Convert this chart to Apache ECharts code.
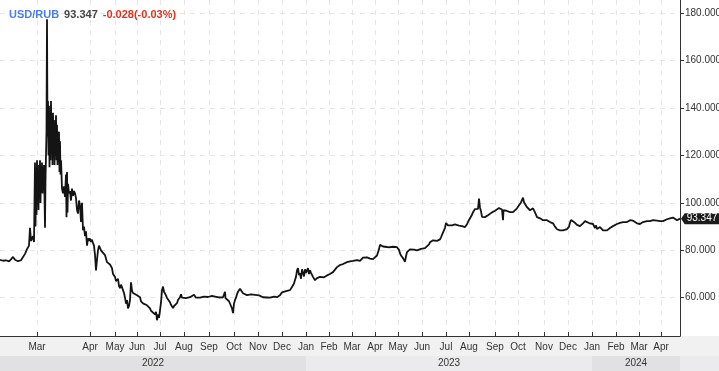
<!DOCTYPE html>
<html>
<head>
<meta charset="utf-8">
<style>
html,body{margin:0;padding:0;background:#fff;}
#chart{width:719px;height:371px;}
</style>
<script src="https://cdn.jsdelivr.net/npm/echarts@6/dist/echarts.min.js"></script>
</head>
<body>
<div id="chart"></div>
<script>
// ---- DATA ----
// x = bar (session) number, y = USD/RUB rate
var usdRub = [
[0,76.0],[3,75.6],[6,75.8],[9,75.3],[11,76.2],[13,77.2],[15,76.0],[18,75.4],[21,75.8],[23,76.5],
[25,78.5],[27,80.5],[29,82.0],[30,89.5],[31,84.0],[33,86.0],[34,83.5],[35,117],[35.5,90],[36,110],
[36.5,95],[37,118],[37.5,100],[38,112],[38.5,97],[39,116],[39.5,104],[40,118],[40.5,100],[41,115],
[41.5,106],[42,117],[42.5,104],[43,113],[43.5,108],[44,116],[45,89.5],[45.5,110],[46,120],[46.5,130],
[47,177.5],[47.5,128],[48,143],[48.5,120],[49,141],[49.5,115],[50,138],[50.5,118],[51,143],[51.5,122],
[52,135],[52.5,116],[53,138],[53.5,125],[54,132],[54.5,116],[55,135],[55.5,120],[56,137],[56.5,118],
[57,133],[57.5,116],[58,128],[59,130],[59.5,113],[60,126],[60.5,112],[61,118],[62,106],[63,104],
[64,107],[65,102.5],[66,112],[66.5,94],[67,113],[67.5,96],[68,108],[69,104],[70,105],[71,101],
[72,106],[73,103],[74,105],[75,104],[76,102],[77,97],[78,95.5],[79,101],[80,99],[81,92],
[82,100],[83,88.5],[84,90],[85,86],[86,88],[87,82],[88,85],[89,84],[90,85],[91,83.5],
[92,84.5],[93,83],[94,82],[95,78],[96,71.5],[97,76],[98,80],[99,82],[100,81.5],[101,80],
[103,80.5],[105,78],[107,75],[108,74.5],[110,74],[112,72.5],[113,70],[114,70.5],[115,68.8],[116,67],
[117,66.3],[118,68],[119,65],[120,64],[121,65.5],[123,63.2],[124,62],[125,60],[126,57.5],[127,59],
[128,55.5],[129,56.5],[130,59],[131,66.5],[132,63],[133,62],[135,61.5],[137,61],[139,60.5],[140,60.2],
[141,58.5],[143,57.6],[145,57.2],[147,56.8],[149,56.5],[150,55.5],[151,54.5],[153,53.9],[155,53],[156,54],
[157,50.5],[158,53],[159,51.5],[160,54.7],[161,58],[162,63.2],[163,64.7],[164,62.5],[165,63],[166,61],
[167,59.9],[169,59.2],[170,58.1],[171,57],[173,55.6],[174,56.5],[175,55.8],[177,57.7],[178,59],[180,60.2],
[181,61.5],[182,60],[184,60.3],[186,59.8],[188,60.4],[190,60.2],[192,60.8],[194,61.3],[196,60],[198,60.2],
[200,60],[202,59.8],[204,60.5],[206,59.9],[208,60.3],[210,60.6],[212,60.8],[213,61.2],[215,60.5],[217,60.3],
[219,60.1],[221,59.8],[223,60.2],[225,62.5],[225.5,59.8],[227,59.5],[229,58.5],[230,57.7],[231,56.5],[232,55.5],
[233,53.5],[234,57.5],[235,59],[236,60],[237,61.5],[238,62.5],[239,63],[240,63.8],[241,63],[243,61.9],
[245,61.5],[247,61.1],[249,61.2],[251,61.4],[253,61.3],[255,61.2],[257,61],[259,61],[261,60.6],[263,60.2],
[265,60.4],[267,60.1],[270,60],[272,60.3],[274,60.5],[277,60.2],[279,60.8],[280,61],[282,62.3],[284,63],
[286,62.8],[288,63],[290,63.2],[292,64.5],[294,66],[295,67.5],[296,68.8],[297,71.5],[298,72.5],[299,69.5],
[300,70.4],[301,68],[302,72],[303,71.6],[304,69],[305,72],[306,70.5],[307,70.8],[308,72.5],[309,70],
[310,71.6],[311,70.5],[313,68.8],[314,68],[315,67.4],[317,68.3],[319,68.5],[320,68.8],[322,69],[324,68.6],
[327,69.4],[330,70],[333,70.8],[335,71.5],[337,72.9],[340,73.8],[343,74.2],[345,74.8],[347,75],[350,75.3],
[353,75.5],[355,75.7],[357,75.9],[359,75.6],[360,75.5],[362,76.2],[363,76.9],[365,76.7],[367,77],[370,76.5],
[372,76.8],[373,76.3],[375,76.9],[377,77.8],[379,80.5],[380,82.3],[381,82.7],[383,81.6],[385,81.8],[387,81.4],
[390,81.3],[393,81.5],[395,81.2],[397,81.3],[399,80.2],[400,78.8],[401,77.8],[403,76.7],[404,76],[405,75.2],
[406,77.5],[407,79.2],[408,80],[410,80.4],[412,80.1],[414,80.3],[417,80],[419,80.4],[421,80.6],[423,80.8],
[425,80.9],[427,81.3],[429,82.5],[430,83.4],[431,84],[433,84.2],[435,84.6],[437,84],[439,84.3],[440,84.6],
[441,85.5],[443,87.5],[445,89.5],[446,91.5],[447,91.7],[448,90.5],[450,91.3],[452,90.5],[453,90.5],[455,90.9],
[457,90.8],[459,90.4],[460,90.5],[462,90.2],[463,90.2],[465,89.8],[467,91],[469,92.8],[470,93.5],[472,95],
[473,96.1],[474,96.8],[475,97.4],[477,98.2],[478,97.5],[479,101.8],[480,98],[481,96.5],[482,94.1],[483,93.5],
[485,94],[487,94.3],[488,94.8],[490,95.6],[492,96],[493,96.1],[495,96.7],[497,97.3],[499,97.8],[500,98.2],
[501,97.9],[502,97.2],[503,92.7],[503.5,96.9],[505,96.9],[507,96.6],[509,96.3],[510,96.1],[512,96],[513,96.1],
[515,96.8],[517,97.7],[519,99],[520,99.8],[521,100.2],[522,100],[523,102.2],[524,100.3],[525,101.1],[526,99.5],
[527,98.2],[528,97.5],[529,98.6],[530,96.9],[532,97.5],[533,97.7],[535,96],[537,94],[539,93.8],[540,93.5],
[541,94],[543,92.7],[545,93],[547,92.7],[549,92.2],[550,91.9],[552,91.6],[553,91.4],[555,90],[557,88.9],
[558,88.2],[560,88.4],[562,88.6],[563,88.4],[565,88.7],[567,88.9],[569,90],[570,91.6],[571,92.8],[572,93.5],
[573,92.4],[575,91.6],[577,90.7],[578,91],[580,90.2],[582,90.9],[583,91.4],[585,92.3],[586,92],[587,91.6],
[589,91.5],[590,91.9],[591,92.3],[593,91.1],[594,90.4],[595,89.4],[596,90.5],[597,89],[598,89.6],[600,89.8],
[601,89.3],[603,88.4],[605,88.6],[607,88.4],[609,88.9],[610,89.4],[612,89.9],[613,90.2],[615,90.5],[617,91.1],
[619,91.3],[620,91.6],[622,91.8],[623,91.9],[625,92.2],[627,91.9],[629,92.4],[630,92.7],[632,92.9],[633,92.5],
[635,92],[637,91.4],[639,91.2],[640,91.1],[642,91.6],[643,91.9],[645,92.1],[647,92.3],[649,92.4],[650,92.3],
[652,92.6],[653,92.7],[655,92.4],[657,92.5],[659,92.2],[660,92.3],[662,92.5],[663,92.3],[665,92.6],[667,93.1],
[669,93.4],[670,93.5],[672,93.8],[673,93.8],[675,93.5],[677,92.7],[679,93.1],[680,93.347]
];
// month starts (bar number) and labels
var monthStarts = [37,90,115,137,160,184,209,234,258,282,306,329,352,375,398,422,446,469,495,518,544,568,592,616,639,661];
var monthNames  = ['Mar','Apr','May','Jun','Jul','Aug','Sep','Oct','Nov','Dec','Jan','Feb','Mar','Apr','May','Jun','Jul','Aug','Sep','Oct','Nov','Dec','Jan','Feb','Mar','Apr'];
// year spans: [startBar, endBar, label]
var yearSpans = [[0,306,'2022'],[306,592,'2023'],[592,680,'2024']];
var priceTicks = [60,80,100,120,140,160,180];
var symbolName = 'USD/RUB';
var lastPrice = '93.347';
var change = '-0.028(-0.03%)';
var xMin = 0, xMax = 680, yMin = 43.85, yMax = 185.6;

// ---- CHART ----
var chart = echarts.init(document.getElementById('chart'), null, {renderer:'canvas'});
var FONT = 'Liberation Sans';
var monthMap = {};
monthStarts.forEach(function(v,i){ monthMap[v] = monthNames[i]; });
var last = usdRub[usdRub.length-1];

var option = {
  animation: false,
  backgroundColor: '#ffffff',
  textStyle: {fontFamily: FONT},
  title: {
    left: 4, top: 1,
    text: '{a|' + symbolName + '} {b|' + lastPrice + '} {c|' + change + '}',
    textStyle: {
      rich: {
        a: {color:'#4a7fea', fontWeight:'bold', fontSize:11, fontFamily:FONT},
        b: {color:'#444444', fontWeight:'bold', fontSize:11, fontFamily:FONT},
        c: {color:'#e0321c', fontWeight:'bold', fontSize:11, fontFamily:FONT}
      }
    }
  },
  graphic: [
    {type:'rect', z:-1, shape:{x:0,y:336,width:719,height:20}, style:{fill:'#f1f1f2'}},
    {type:'rect', z:-1, shape:{x:0,y:356,width:719,height:15}, style:{fill:'#ebebed'}}
  ],
  grid: [
    {left:0, right:39, top:0, bottom:35, containLabel:false, outerBoundsMode:'none'},
    {left:0, right:39, top:356, height:15, containLabel:false, outerBoundsMode:'none'}
  ],
  xAxis: [
    {
      type:'value', gridIndex:0, min:xMin, max:xMax, position:'bottom',
      axisLine:{show:true, onZero:false, lineStyle:{color:'#333', width:1}},
      axisTick:{show:true, inside:true, length:4, customValues: monthStarts, lineStyle:{color:'#333'}},
      axisLabel:{show:true, customValues: monthStarts, margin:6, fontSize:10, color:'#333', fontFamily:FONT,
        formatter:function(v){ return monthMap[v] || ''; }},
      splitLine:{show:true, lineStyle:{color:'#e6e6e6', type:[5,5], width:1}}
    },
    {type:'value', gridIndex:1, min:xMin, max:xMax, show:false}
  ],
  yAxis: [
    {
      type:'value', gridIndex:0, min:yMin, max:yMax, position:'right',
      axisLine:{show:true, onZero:false, lineStyle:{color:'#333', width:1}},
      axisTick:{show:true, inside:false, length:4, customValues: priceTicks, lineStyle:{color:'#333'}},
      axisLabel:{show:true, customValues: priceTicks, margin:5, fontSize:10, color:'#333', fontFamily:FONT,
        formatter:function(v){ return v.toFixed(3); }},
      splitLine:{show:true, lineStyle:{color:'#e6e6e6', type:[5,5], width:1}}
    },
    {type:'value', gridIndex:1, min:0, max:1, show:false}
  ],
  series: [
    {
      type:'line', xAxisIndex:0, yAxisIndex:0, data: usdRub,
      showSymbol:false, symbol:'none', smooth:false, sampling:null,
      lineStyle:{color:'#141414', width:1.8},
      z:3,
      markPoint: {
        silent:true,
        symbol:'path://M0,5 L4,0 L40,0 L40,10 L4,10 Z',
        symbolSize:[38,11], symbolKeepAspect:false, symbolOffset:[20,0],
        itemStyle:{color:'#1c1c1c'},
        label:{show:true, color:'#fff', fontSize:10, fontFamily:FONT, offset:[2,0],
          formatter:function(){ return lastPrice; }},
        data:[{coord:[last[0], last[1]]}]
      }
    },
    {
      type:'custom', xAxisIndex:1, yAxisIndex:1, data: yearSpans,
      renderItem:function(params, api){
        var s = api.coord([api.value(0), 1]);
        var e = api.coord([api.value(1), 0]);
        var dark = params.dataIndex % 2 === 0;
        return {
          type:'group',
          children:[
            {type:'rect', shape:{x:s[0], y:s[1], width:e[0]-s[0], height:e[1]-s[1]},
             style:{fill: dark ? '#e1e1e3' : '#ebebed'}},
            {type:'text', style:{text: yearSpans[params.dataIndex][2], x:(s[0]+e[0])/2, y:(s[1]+e[1])/2,
              align:'center', verticalAlign:'middle', fill:'#333', font:'10px "Liberation Sans"'}}
          ]
        };
      },
      z:2
    }
  ]
};
chart.setOption(option);
</script>
</body>
</html>
